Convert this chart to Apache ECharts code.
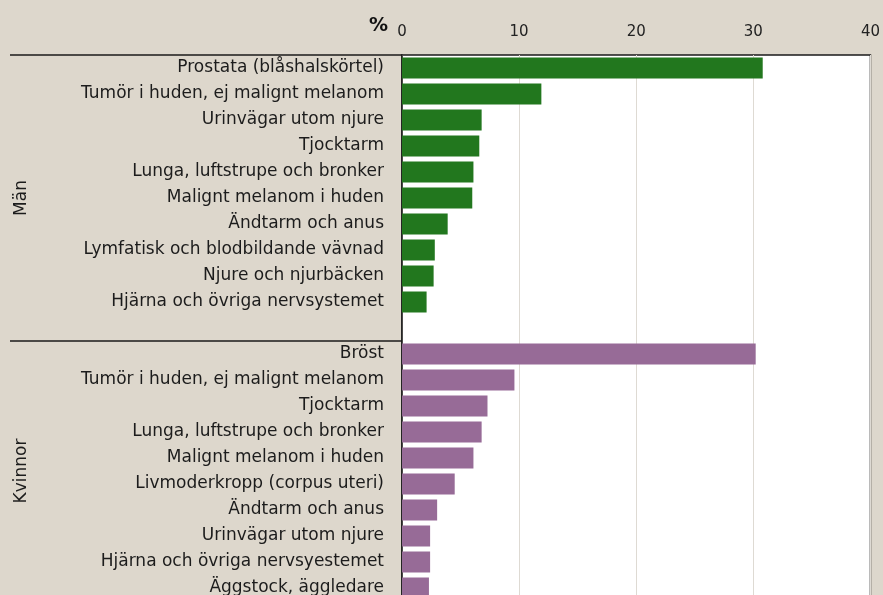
<!DOCTYPE html>
<html>
<head>
<meta charset="utf-8">
<script src="https://cdn.jsdelivr.net/npm/echarts@6/dist/echarts.min.js"></script>
<style>
  html, body { margin: 0; padding: 0; background: #ddd7cc; overflow: hidden; }
  #chart { width: 883px; height: 620px; }
</style>
</head>
<body>
<div id="chart"></div>
<script>
const menCats = [
    "Prostata (blåshalskörtel)",
    "Tumör i huden, ej malignt melanom",
    "Urinvägar utom njure",
    "Tjocktarm",
    "Lunga, luftstrupe och bronker",
    "Malignt melanom i huden",
    "Ändtarm och anus",
    "Lymfatisk och blodbildande vävnad",
    "Njure och njurbäcken",
    "Hjärna och övriga nervsystemet"
];
const menValues = [30.8, 11.9, 6.8, 6.6, 6.1, 6.0, 3.9, 2.8, 2.7, 2.1];

const womenCats = [
    "Bröst",
    "Tumör i huden, ej malignt melanom",
    "Tjocktarm",
    "Lunga, luftstrupe och bronker",
    "Malignt melanom i huden",
    "Livmoderkropp (corpus uteri)",
    "Ändtarm och anus",
    "Urinvägar utom njure",
    "Hjärna och övriga nervsyestemet",
    "Äggstock, äggledare"
];
const womenValues = [30.2, 9.6, 7.3, 6.8, 6.1, 4.5, 3.0, 2.4, 2.4, 2.3];

const groupNames = ["Män", "Kvinnor"];
const xTicks = [0, 10, 20, 30, 40];

const FONT = "DejaVu Sans";

// one blank row separates the two groups
const categories = [...menCats, "", ...womenCats];
const menSeries = [...menValues, ...Array(womenCats.length + 1).fill("-")];
const womenSeries = [...Array(menCats.length + 1).fill("-"), ...womenValues];

const chart = echarts.init(document.getElementById("chart"));

chart.setOption({
    backgroundColor: "#ddd7cc",
    animation: false,
    title: {
        text: "%",
        left: 364,
        top: 12,
        textStyle: { fontFamily: FONT, fontSize: 19, fontWeight: "bold", color: "#111" }
    },
    grid: {
        left: 402,
        right: 11,
        top: 55,
        height: 26 * categories.length,
        show: true,
        backgroundColor: "#ffffff",
        borderColor: "#1a1a1a",
        borderWidth: 1.5
    },
    xAxis: {
        type: "value",
        position: "top",
        min: xTicks[0],
        max: xTicks[xTicks.length - 1],
        interval: 10,
        axisLine: { show: false },
        axisTick: { show: false },
        axisLabel: { fontFamily: FONT, fontSize: 15, color: "#222", margin: 15 },
        splitLine: { show: true, lineStyle: { color: "#dedad3", width: 1 } }
    },
    yAxis: {
        type: "category",
        inverse: true,
        data: categories,
        axisLine: { show: true, lineStyle: { color: "#1a1a1a", width: 1.5 } },
        axisTick: { show: false },
        axisLabel: {
            fontFamily: FONT,
            fontSize: 17,
            color: "#1c1c1c",
            margin: 18,
            padding: [4, 0, 0, 0]
        }
    },
    series: [
        {
            name: groupNames[0],
            type: "bar",
            data: menSeries,
            barWidth: 21,
            barGap: "-100%",
            itemStyle: { color: "#22771e" }
        },
        {
            name: groupNames[1],
            type: "bar",
            data: womenSeries,
            barWidth: 21,
            itemStyle: { color: "#976b97" }
        }
    ]
});

// group brackets: separator lines and rotated group names, placed from the category scale
function drawGroups() {
    const y0 = chart.convertToPixel({ yAxisIndex: 0 }, 0);
    const y1 = chart.convertToPixel({ yAxisIndex: 0 }, 1);
    const band = y1 - y0;
    const axisX = chart.convertToPixel({ xAxisIndex: 0 }, 0);
    const top = y0 - band / 2;
    const split = chart.convertToPixel({ yAxisIndex: 0 }, menCats.length) + band / 2;
    const bottom = chart.convertToPixel({ yAxisIndex: 0 }, categories.length - 1) + band / 2;

    const lineStyle = { stroke: "#1a1a1a", lineWidth: 1.5 };
    const labelStyle = (text) => ({
        text: text,
        fontFamily: FONT,
        fontSize: 17,
        fill: "#1c1c1c",
        align: "center",
        verticalAlign: "middle"
    });

    chart.setOption({
        graphic: [
            { type: "line", shape: { x1: 10, y1: top, x2: axisX, y2: top }, style: lineStyle },
            { type: "line", shape: { x1: 10, y1: split, x2: axisX, y2: split }, style: lineStyle },
            { type: "text", x: 22, y: (top + split) / 2, rotation: Math.PI / 2, style: labelStyle(groupNames[0]) },
            { type: "text", x: 22, y: (split + bottom) / 2, rotation: Math.PI / 2, style: labelStyle(groupNames[1]) }
        ]
    });
}

drawGroups();
</script>
</body>
</html>
